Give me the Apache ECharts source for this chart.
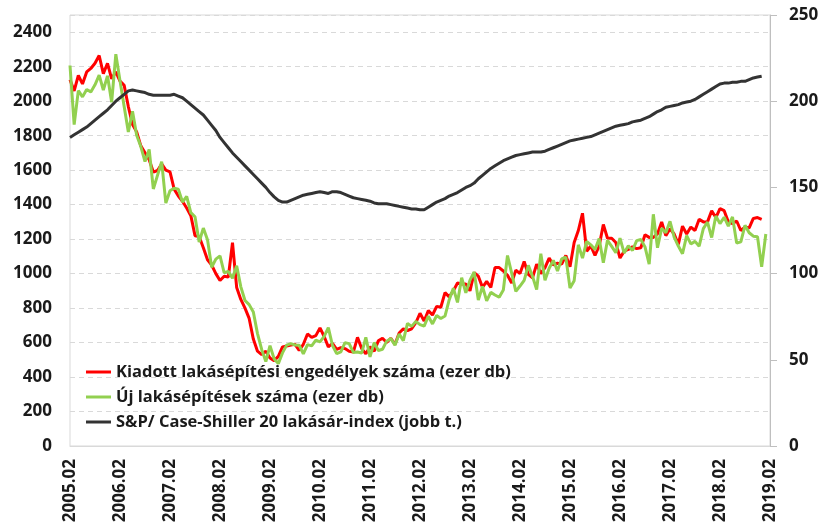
<!DOCTYPE html>
<html><head><meta charset="utf-8">
<script src="https://cdn.jsdelivr.net/npm/echarts@6/dist/echarts.min.js"></script>
<style>html,body{margin:0;padding:0;background:#fff}#c{width:823px;height:528px}</style>
</head><body><div id="c"></div>
<script>
// Monthly categories 2005.02 .. 2019.02
var categories = [];
for (var y = 2005; y <= 2019; y++) {
  for (var m = 1; m <= 12; m++) {
    if (y === 2005 && m < 2) continue;
    if (y === 2019 && m > 2) continue;
    categories.push(y + '.' + (m < 10 ? '0' + m : m));
  }
}
var seriesNames = [
  'Kiadott lakásépítési engedélyek száma (ezer db)',
  'Új lakásépítések száma (ezer db)',
  'S&P/ Case-Shiller 20 lakásár-index (jobb t.)'
];
// Building permits (thousand), 2005.02 - 2019.01
var permits = [
  2125,2060,2150,2100,2170,2190,2220,2265,2160,2220,2130,
  2170,2117,2092,1969,1865,1822,1741,1701,1660,1589,1598,1636,
  1600,1590,1490,1450,1420,1380,1336,1220,1215,1150,1080,1050,
  1000,960,985,980,1180,920,850,800,740,620,550,530,
  550,510,495,520,575,580,585,590,555,590,650,630,
  640,685,635,575,595,560,570,565,550,545,630,565,
  535,575,550,610,625,600,625,590,655,680,670,680,
  715,770,725,785,760,810,805,890,865,900,945,940,
  940,900,1005,985,920,955,920,1035,1035,1015,990,945,
  1020,1000,1070,995,975,1055,1000,1035,1090,1050,1060,1055,
  1105,1040,1180,1250,1350,1130,1160,1105,1160,1285,1205,1205,
  1180,1090,1130,1140,1155,1145,1150,1225,1210,1210,1230,1300,
  1220,1260,1230,1170,1275,1230,1270,1250,1315,1300,1300,1365,
  1325,1377,1365,1300,1290,1305,1250,1270,1265,1320,1325,1315
];
// Housing starts (thousand), 2005.02 - 2019.01
var starts = [
  2207,1864,2061,2025,2068,2054,2095,2151,2065,2147,1994,
  2273,2119,1969,1821,1942,1802,1737,1650,1720,1491,1570,1649,
  1409,1480,1495,1490,1415,1448,1354,1330,1183,1264,1197,1037,
  1084,1103,1005,1013,973,1046,923,844,820,777,652,560,
  490,582,505,478,540,585,594,586,585,534,588,581,
  614,604,636,687,583,536,546,599,594,543,545,539,
  630,517,600,554,561,608,623,585,650,611,711,694,
  723,704,695,753,708,757,740,754,847,915,833,976,
  888,962,1010,847,925,842,891,876,863,905,1105,1003,
  897,928,961,1048,985,907,1115,961,1031,1077,1015,1085,
  1095,916,959,1167,1090,1187,1167,1140,1203,1063,1193,1158,
  1121,1206,1119,1161,1134,1191,1198,1155,1055,1344,1150,1263,
  1237,1303,1212,1160,1115,1220,1172,1187,1159,1261,1299,1209,
  1334,1290,1327,1276,1329,1177,1184,1280,1237,1217,1214,1040,
  1230
];
// Case-Shiller 20-city index, 2005.02 - 2018.12
var caseShiller = [
  179,180.5,182,183.5,185,187,189,191,193,195,197.5,200,
  202,204,206,206.5,206,205.5,205,204,203.5,203.5,203.5,203.5,
  203.5,204,203,202,200,198,196,194,192,189,186,183,
  179,176,173,170,167.5,165,162.5,160,157.5,155,152.5,150,
  147,144.5,142.5,141.5,141.5,142.5,143.5,144.5,145.5,146,146.5,147,
  147.5,147,146.5,147.5,147.5,147,146,145,144,143.5,143,142.5,
  142,141,140.5,140.5,140.5,140,139.5,139,138.5,138,137.5,137.5,
  137,137,138.5,140,141.5,142.5,143.5,145,146,147,148.5,150,
  151,152.5,155,157,159,161,162.5,164,165.5,166.5,167.5,168.5,
  169,169.5,170,170.5,170.5,170.5,171,172,173,174,175,176,
  177,177.5,178,178.5,179,179.5,180.5,181.5,182.5,183.5,184.5,185.5,
  186,186.5,187,188,188.5,189,190,191,192.5,194,195,196.5,
  197,197.5,198,199,199.5,200,201,202.5,204,205.5,207,208.5,
  210,210.5,210.5,211,211,211.5,211.5,212.5,213.5,214,214.5
];
var leftTicks = {min: 0, max: 2500, interval: 200};
var rightTicks = {min: 0, max: 250, interval: 50};

var FONT = 'Open Sans';
var TXT = '#1a1a1a';
var chart = echarts.init(document.getElementById('c'), null, {renderer: 'canvas'});
chart.setOption({
  animation: false,
  backgroundColor: '#fff',
  grid: {left: 70, right: 53, top: 15, bottom: 82, show: true, borderColor: '#d9d9d9', borderWidth: 1},
  legend: {
    orient: 'vertical', left: 81, top: 357,
    itemWidth: 25, itemHeight: 3, itemGap: 5, icon: 'rect',
    textStyle: {fontFamily: FONT, fontWeight: 'bold', fontSize: 16.5, color: TXT, lineHeight: 20},
    data: seriesNames
  },
  xAxis: {
    type: 'category', data: categories, boundaryGap: false,
    axisLine: {show: true, lineStyle: {color: '#d9d9d9', width: 1}},
    axisTick: {show: false},
    axisLabel: {interval: 11, rotate: 90, margin: 13, fontFamily: FONT, fontWeight: 'bold', fontSize: 17, color: TXT},
    splitLine: {show: false}
  },
  yAxis: [{
    type: 'value', min: leftTicks.min, max: leftTicks.max, interval: leftTicks.interval,
    axisLine: {show: false}, axisTick: {show: false},
    axisLabel: {margin: 18, fontFamily: FONT, fontWeight: 'bold', fontSize: 17, color: TXT,
      formatter: function (v) { return v > 2400 ? '' : String(v); }},
    splitLine: {show: true, lineStyle: {color: '#d9d9d9', type: [5, 4], width: 1}}
  }, {
    type: 'value', min: rightTicks.min, max: rightTicks.max, interval: rightTicks.interval, position: 'right',
    axisLine: {show: true, lineStyle: {color: '#bfbfbf', width: 1}},
    axisTick: {show: true, length: 7, lineStyle: {color: '#bfbfbf'}},
    axisLabel: {margin: 19, fontFamily: FONT, fontWeight: 'bold', fontSize: 17, color: TXT},
    splitLine: {show: false}
  }],
  series: [{
    name: seriesNames[0], type: 'line', data: permits, yAxisIndex: 0,
    showSymbol: false, symbol: 'none', lineStyle: {color: '#ff0000', width: 3}, itemStyle: {color: '#ff0000'}
  }, {
    name: seriesNames[1], type: 'line', data: starts, yAxisIndex: 0,
    showSymbol: false, symbol: 'none', lineStyle: {color: '#92d050', width: 3}, itemStyle: {color: '#92d050'}
  }, {
    name: seriesNames[2], type: 'line', data: caseShiller, yAxisIndex: 1,
    showSymbol: false, symbol: 'none', lineStyle: {color: '#333333', width: 3}, itemStyle: {color: '#333333'}
  }]
});
</script>
</body></html>
